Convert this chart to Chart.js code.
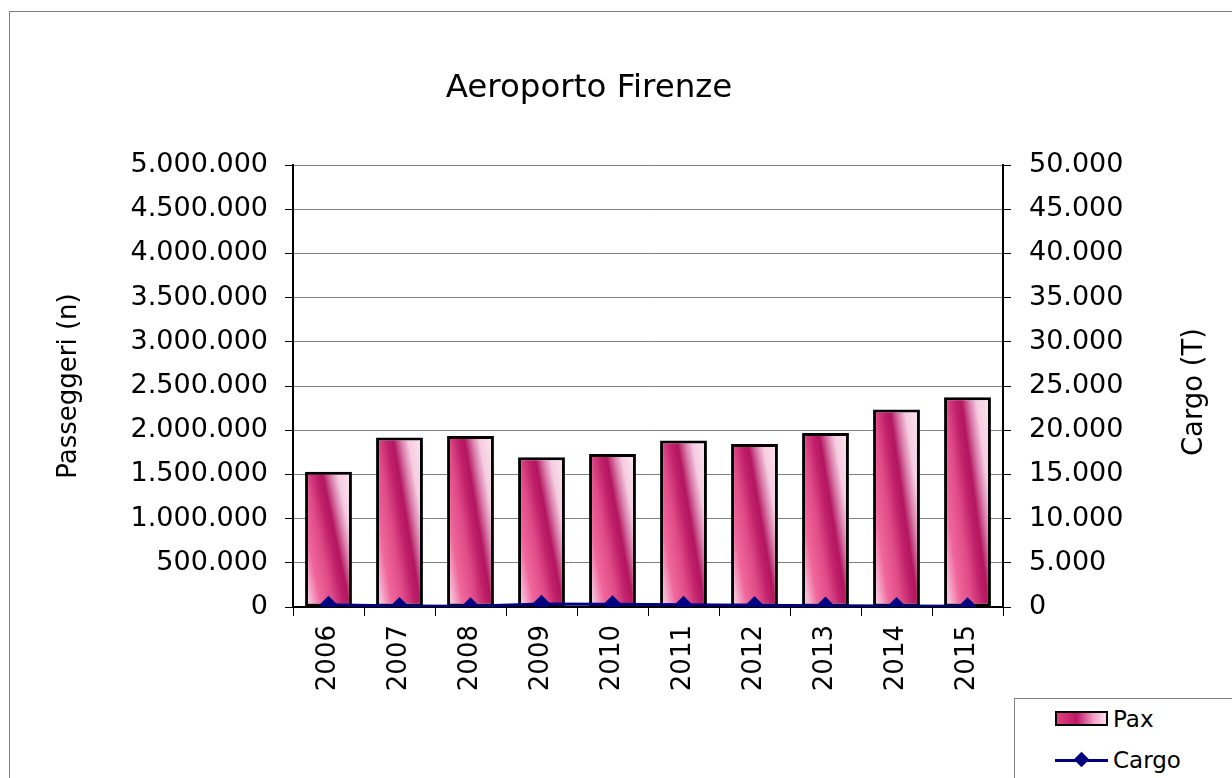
<!DOCTYPE html>
<html>
<head>
<meta charset="utf-8">
<script src="https://cdn.jsdelivr.net/npm/chart.js@4"></script>
<style>
  body { margin: 0; background: #fff; overflow: hidden; }
  #wrap { position: relative; width: 1232px; height: 778px; font-family: "DejaVu Sans", Verdana, sans-serif; }
  #frame { position: absolute; left: 9px; top: 11px; width: 1240px; height: 790px; border: 1px solid #808080; }
  #chart { position: absolute; left: 0; top: 0; }
  #legend { position: absolute; left: 1014px; top: 698px; width: 240px; height: 100px; border: 1px solid #808080; background: #fff; }
  .item { position: absolute; left: 40px; height: 30px; font-size: 23px; line-height: 30px; color: #000; }
  .item span { position: absolute; left: 58px; top: 0; }
  .swatch { position: absolute; left: 0; top: 7px; width: 49px; height: 11px; border: 2px solid #000;
    background: linear-gradient(to right, #e0407e, #c01868 40%, #f0a0c8 75%, #fde0ee); }
  .lineSym { position: absolute; left: 0; top: 14px; width: 53px; height: 3px; background: #000080; }
  .dia { position: absolute; left: 21px; top: 9px; width: 11px; height: 11px; background: #000080; transform: rotate(45deg); }
</style>
</head>
<body>
<div id="wrap">
  <div id="frame"></div>
  <canvas id="chart" width="1232" height="778"></canvas>
  <div id="legend"></div>
</div>
<script>
const years = ['2006', '2007', '2008', '2009', '2010', '2011', '2012', '2013', '2014', '2015'];
const pax = [1530000, 1917000, 1935000, 1694000, 1731000, 1883000, 1845000, 1969000, 2234000, 2373000];
const cargo = [250, 100, 80, 350, 300, 250, 200, 150, 100, 80];
const paxLabel = 'Pax';
const cargoLabel = 'Cargo';
const barShare = 0.66;

const fmt = (v) => String(v).replace(/\B(?=(\d{3})+(?!\d))/g, '.');

// diagonal stripe gradient per bar, like the Excel fill
function paxFill(context) {
    const chart = context.chart;
    if (!chart.chartArea || context.type !== 'data') return '#e0508a';
    const xs = chart.scales.x, ys = chart.scales.y;
    const cx = xs.getPixelForValue(context.dataIndex);
    const w = xs.width / years.length * barShare;
    const top = ys.getPixelForValue(context.raw);
    const bot = ys.getPixelForValue(0);
    const h = bot - top;
    const s = 0.6;
    const x0 = cx - w / 2;
    const k = w * h * (1 + s) / (h * h + s * s * w * w);
    const g = chart.ctx.createLinearGradient(x0, bot, x0 + k * h, bot - k * s * w);
    g.addColorStop(0, '#f9dcea');
    g.addColorStop(0.1, '#f6b0cf');
    g.addColorStop(0.22, '#f0679c');
    g.addColorStop(0.38, '#e04c88');
    g.addColorStop(0.52, '#c0206a');
    g.addColorStop(0.6, '#b3155f');
    g.addColorStop(0.7, '#d87aa8');
    g.addColorStop(0.8, '#f5cce1');
    g.addColorStop(1, '#fde8f2');
    return g;
}

const titles = {
    id: 'titles',
    afterDraw(chart) {
        const sc = chart.scales.y1;
        const ctx = chart.ctx;
        ctx.save();
        ctx.fillStyle = '#000';
        ctx.textAlign = 'center';
        ctx.textBaseline = 'middle';
        ctx.font = '32.5px "DejaVu Sans"';
        ctx.fillText('Aeroporto Firenze', 589, 89);
        ctx.translate(sc.right - 37, (sc.top + sc.bottom) / 2 + 6);
        ctx.rotate(-Math.PI / 2);
        ctx.font = '27.5px "DejaVu Sans"';
        ctx.fillText('Cargo (T)', 0, 0);
        ctx.restore();
    }
};

const ctx = document.querySelector('#chart').getContext('2d');
const chart = new Chart(ctx, {
    data: {
        labels: years,
        datasets: [{
            type: 'line',
            label: cargoLabel,
            data: cargo,
            yAxisID: 'y1',
            order: 1,
            borderColor: '#000080',
            borderWidth: 3,
            pointStyle: 'rectRot',
            pointRadius: 7,
            pointBackgroundColor: '#000080',
            pointBorderColor: '#000080',
        }, {
            type: 'bar',
            label: paxLabel,
            data: pax,
            yAxisID: 'y',
            order: 2,
            backgroundColor: paxFill,
            borderColor: '#000',
            borderWidth: 3,
            borderSkipped: false,
            barPercentage: barShare,
            categoryPercentage: 1,
        }]
    },
    options: {
        responsive: false,
        animation: false,
        layout: { padding: { top: 165 } },
        font: { family: '"DejaVu Sans"' },
        plugins: {
            legend: { display: false },
            tooltip: { enabled: false },
            title: { display: false }
        },
        scales: {
            x: {
                afterFit: (s) => { s.height = 171; },
                grid: { drawOnChartArea: false, offset: true, tickLength: 9, color: '#000' },
                border: { color: '#000', width: 2 },
                ticks: { color: '#000', minRotation: 90, maxRotation: 90, padding: 9,
                    font: { size: 26, family: '"DejaVu Sans"' } },
            },
            y: {
                position: 'left',
                min: 0, max: 5000000,
                afterFit: (s) => { s.width = 293; },
                grid: { color: '#808080', tickColor: '#000', tickLength: 8 },
                border: { color: '#000', width: 2 },
                ticks: { stepSize: 500000, color: '#000', padding: 17, callback: fmt,
                    font: { size: 27, family: '"DejaVu Sans"' } },
                title: { display: true, text: 'Passeggeri (n)', color: '#000', padding: { top: 54 },
                    font: { size: 26, family: '"DejaVu Sans"' } },
            },
            y1: {
                position: 'right',
                min: 0, max: 50000,
                afterFit: (s) => { s.width = 229; },
                grid: { drawOnChartArea: false, tickColor: '#000', tickLength: 8 },
                border: { color: '#000', width: 2 },
                ticks: { stepSize: 5000, color: '#000', padding: 18, callback: fmt,
                    font: { size: 27, family: '"DejaVu Sans"' } },
            }
        }
    },
    plugins: [titles]
});

document.querySelector('#legend').innerHTML =
    '<div class="item" style="top:5px"><div class="swatch"></div><span>' + paxLabel + '</span></div>' +
    '<div class="item" style="top:46px"><div class="lineSym"></div><div class="dia"></div><span>' + cargoLabel + '</span></div>';
</script>
</body>
</html>
